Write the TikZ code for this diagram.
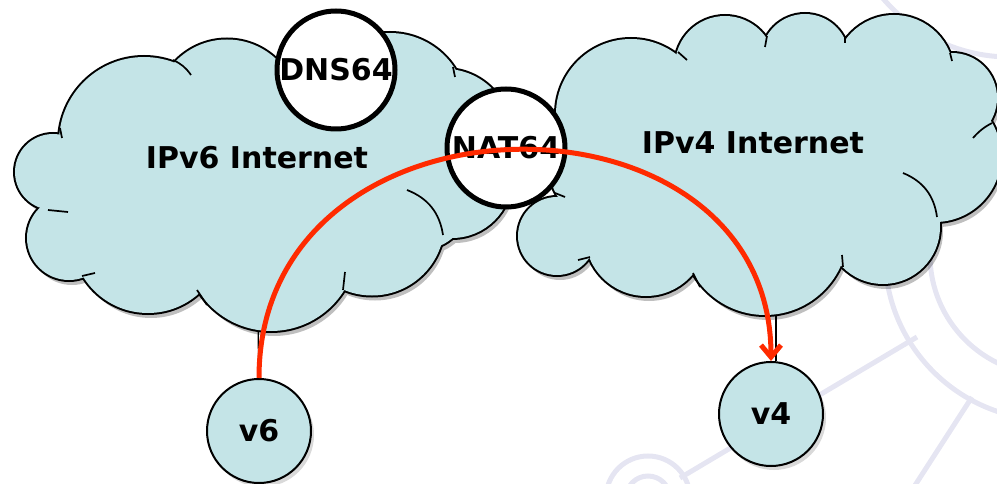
\documentclass[tikz,border=0pt]{standalone}
\usepackage{fontspec}
\setmainfont{DejaVu Sans}
\usetikzlibrary{arrows.meta,shadows,backgrounds,calc}
\definecolor{cloudblue}{RGB}{196,228,231}
\definecolor{flowred}{RGB}{255,42,0}
\definecolor{wmark}{RGB}{229,229,242}
\tikzstyle{puff} = [fill=cloudblue]
\tikzstyle{puffline} = [draw=black, line width=4pt]
\tikzstyle{fold} = [black, line width=1.7pt]
\tikzstyle{gateway} = [circle, draw=black, line width=5pt, fill=white, minimum size=118pt, inner sep=0pt, font=\fontsize{30}{34}\selectfont\bfseries]
\tikzstyle{host} = [circle, draw=black, line width=2pt, fill=cloudblue, minimum size=104pt, inner sep=0pt, font=\fontsize{30}{34}\selectfont\bfseries, drop shadow={shadow xshift=3pt, shadow yshift=-4pt, opacity=0.3}]
\tikzstyle{netlabel} = [font=\fontsize{30}{34}\selectfont\bfseries]
\tikzstyle{link} = [black, line width=1.3pt]
\tikzstyle{flow} = [flowred, line width=5pt, -{Straight Barb[length=12pt, width=20pt]}]
\tikzstyle{bgline} = [wmark, line width=5pt]
% puffs of the clouds: x/y/radius
\newcommand{\leftpuffs}{53/172/38, 144/142/85, 227/111/71.5, 390/110/77, 445/135/66, 452/178/60, 372/223/72.5, 271/245/86, 148/237/76, 69/238/42, 260/175/110, 340/160/90, 130/200/70, 420/200/50}
\newcommand{\rightpuffs}{631/114/75, 725/66/50, 805/58/44, 894/75/60, 952/98/45, 935/156/66, 883/227/57, 765/232/83, 646/235/61, 557/236/39, 600/170/50, 770/150/100, 860/150/80, 680/200/60, 900/120/50}
\newcommand{\drawcloud}[1]{%
  \begin{scope}[transparency group, opacity=0.25]
    \foreach \x/\y/\r in #1 \fill[black] (\x+3,\y+5) circle (\r);
  \end{scope}
  \foreach \x/\y/\r in #1 \draw[puffline] (\x,\y) circle (\r);
  \foreach \x/\y/\r in #1 \fill[puff] (\x,\y) circle (\r);
}
\begin{document}
\begin{tikzpicture}[x=1pt, y=-1pt]
  \useasboundingbox (0,0) rectangle (997,484);

  % clouds
  \drawcloud{\leftpuffs}
  \draw[fold] (173,60) to[bend left=15] (191,75);
  \draw[fold] (60,128) -- (62,138);
  \draw[fold] (48,210) -- (68,212);
  \draw[fold] (82,276) -- (95,273);
  \draw[fold] (197,290) -- (207,305);
  \draw[fold] (345,272) -- (343,290);
  \draw[fold] (407,190) to[bend left=30] (443,235);
  \draw[fold] (453,67) -- (455,77);

  \drawcloud{\rightpuffs}
  \draw[fold] (678,52) -- (687,60);
  \draw[fold] (767,36) -- (765,47);
  \draw[fold] (845,36) -- (845,43);
  \draw[fold] (950,53) -- (952,61);
  \draw[fold] (973,138) to[bend left=10] (992,123);
  \draw[fold] (903,173) to[bend left=30] (937,217);
  \draw[fold] (842,255) -- (843,267);
  \draw[fold] (693,273) -- (700,287);
  \draw[fold] (578,260) -- (590,257);
  \draw[fold] (555,193) -- (565,197);

  \node[netlabel] (v6net) at (257,158) {IPv6 Internet};
  \node[netlabel] (v4net) at (753,143) {IPv4 Internet};

  % translators
  \node[gateway] (dns) at (336,70) {DNS64};
  \node[gateway] (nat) at (506,148) {NAT64};

  % hosts
  \node[host] (v6) at (259,431) {v6};
  \node[host] (v4) at (771,414) {v4};

  % links and watermark
  \begin{scope}[on background layer]
    \draw[bgline] (1050,255) circle (120);
    \draw[bgline] (1050,255) circle (165);
    \draw[bgline] (1010,-110) circle (167);
    \draw[bgline] (648,498) circle (42);
    \draw[bgline] (648,498) circle (22);
    \draw[bgline] (680,478) -- (917,337);
    \draw[bgline] (972,397) -- (912,490);
    \draw[link] (v6net) -- (v6);
    \draw[link] ([xshift=5pt]v4.north) -- ([xshift=5pt]v4.north |- v4net.south);
  \end{scope}

  % flow
  \draw[flow] (v6.north) .. controls +(0,-300) and +(0,-285) .. (v4.north);
\end{tikzpicture}
\end{document}
